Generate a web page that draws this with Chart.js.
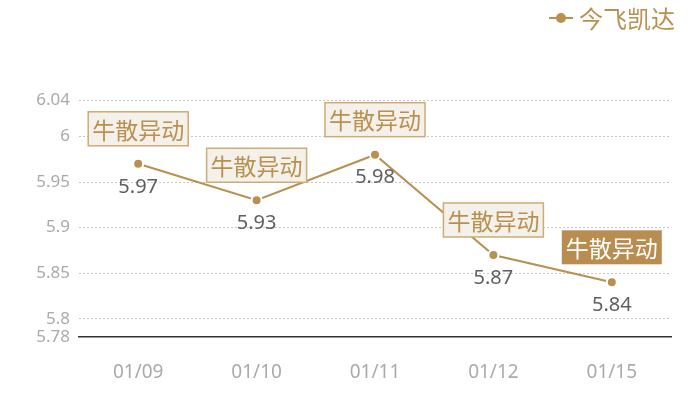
<!DOCTYPE html>
<html>
<head>
<meta charset="utf-8">
<script src="https://cdn.jsdelivr.net/npm/chart.js@4/dist/chart.umd.min.js"></script>
<style>
  html, body { margin: 0; padding: 0; background: #fff; }
  #wrap { width: 700px; height: 400px; }
</style>
</head>
<body>
<div id="wrap"><canvas id="chart"></canvas></div>
<script>
// data
const dates = ['01/09', '01/10', '01/11', '01/12', '01/15'];
const prices = [5.97, 5.93, 5.98, 5.87, 5.84];
const yTicks = [5.78, 5.8, 5.85, 5.9, 5.95, 6, 6.04];
const seriesName = '今飞凯达';
const notes = ['牛散异动', '牛散异动', '牛散异动', '牛散异动', '牛散异动'];
const noteHighlight = [false, false, false, false, true];

const gold = '#b8904f';
const numFont = '"Noto Sans", "Noto Sans CJK SC", sans-serif';
const cjkFont = '"Noto Sans CJK SC", "Noto Sans", sans-serif';

// legend (line + dot) in the top right, value labels and note boxes
const decorations = {
  id: 'decorations',
  afterDatasetsDraw(chart) {
    const ctx = chart.ctx;
    const meta = chart.getDatasetMeta(0);
    ctx.save();

    // value labels under each point
    ctx.font = '20px ' + numFont;
    ctx.fillStyle = '#5f5f5f';
    ctx.textAlign = 'center';
    ctx.textBaseline = 'middle';
    meta.data.forEach((pt, i) => {
      ctx.fillText(String(prices[i]), pt.x, pt.y + 23);
    });

    // note boxes above each point
    ctx.font = '23px ' + cjkFont;
    meta.data.forEach((pt, i) => {
      const w = ctx.measureText(notes[i]).width + 8;
      const h = 34;
      const x = pt.x - w / 2;
      const y = pt.y - 18 - h;
      if (noteHighlight[i]) {
        ctx.fillStyle = '#b88d4f';
        ctx.fillRect(x, y, w, h);
        ctx.fillStyle = '#ffffff';
      } else {
        ctx.fillStyle = '#f4f0ea';
        ctx.fillRect(x, y, w, h);
        ctx.strokeStyle = '#cfab76';
        ctx.lineWidth = 1.5;
        ctx.strokeRect(x, y, w, h);
        ctx.fillStyle = gold;
      }
      ctx.fillText(notes[i], pt.x, y + h / 2 + 1);
    });

    // legend
    const ly = 18;
    ctx.strokeStyle = gold;
    ctx.lineWidth = 2;
    ctx.beginPath();
    ctx.moveTo(549, ly);
    ctx.lineTo(573, ly);
    ctx.stroke();
    ctx.fillStyle = gold;
    ctx.beginPath();
    ctx.arc(561, ly, 5, 0, Math.PI * 2);
    ctx.fill();
    ctx.font = '24px ' + cjkFont;
    ctx.textAlign = 'left';
    ctx.fillText(seriesName, 579, ly + 1);

    ctx.restore();
  }
};

new Chart(document.getElementById('chart'), {
  type: 'line',
  data: {
    labels: dates,
    datasets: [{
      label: seriesName,
      data: prices,
      borderColor: gold,
      borderWidth: 2,
      backgroundColor: gold,
      pointRadius: 5,
      pointBorderWidth: 2,
      pointBorderColor: '#ffffff',
      pointBackgroundColor: gold,
      tension: 0,
      fill: false
    }]
  },
  options: {
    responsive: true,
    maintainAspectRatio: false,
    animation: false,
    layout: { padding: { top: 100, right: 29, bottom: 0, left: 0 } },
    plugins: {
      legend: { display: false },
      tooltip: { enabled: false }
    },
    scales: {
      x: {
        offset: true,
        afterFit(axis) {
          axis.height = 63;
        },
        grid: { display: false, drawTicks: false },
        border: { display: true, color: '#333333', width: 1.5 },
        ticks: {
          padding: 24,
          color: '#aaaaaa',
          font: { size: 19, family: numFont }
        }
      },
      y: {
        min: 5.78,
        max: 6.04,
        afterBuildTicks(axis) {
          axis.ticks = yTicks.map(v => ({ value: v }));
        },
        afterFit(axis) {
          axis.width = 79;
        },
        grid: {
          drawTicks: false,
          color: ctx => (ctx.tick && ctx.tick.value === 5.78 ? 'rgba(0,0,0,0)' : '#c8c8c8'),
          lineWidth: 1
        },
        border: { display: false, dash: [2, 2] },
        ticks: {
          padding: 9,
          color: '#aaaaaa',
          font: { size: 17, family: numFont },
          callback: v => String(v)
        }
      }
    }
  },
  plugins: [decorations]
});
</script>
</body>
</html>
